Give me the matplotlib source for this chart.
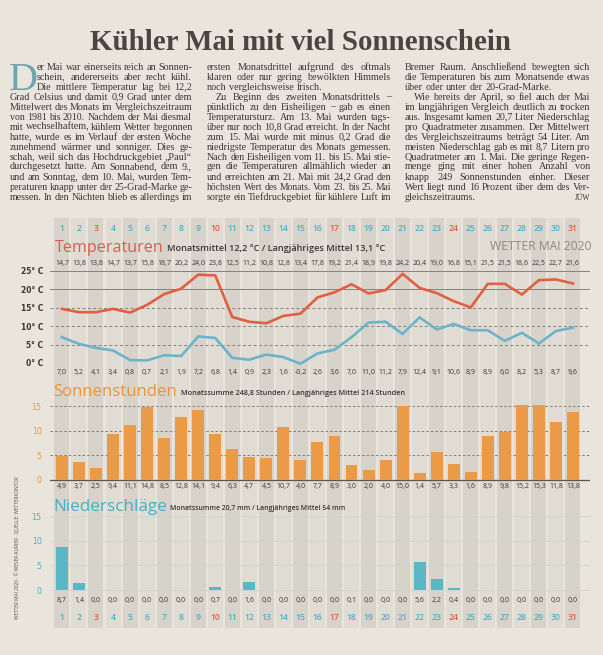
import matplotlib
matplotlib.use("Agg")
import matplotlib.pyplot as plt

# --- data (Mai 2020) ---
days = list(range(1, 32))
sundays = [3, 10, 17, 24, 31]
t_max = [14.7, 13.8, 13.8, 14.7, 13.7, 15.8, 18.7, 20.2, 24.0, 23.8, 12.5, 11.2, 10.8, 12.8, 13.4, 17.8,
         19.2, 21.4, 18.9, 19.8, 24.2, 20.4, 19.0, 16.8, 15.1, 21.5, 21.5, 18.6, 22.5, 22.7, 21.6]
t_min = [7.0, 5.2, 4.1, 3.4, 0.8, 0.7, 2.1, 1.9, 7.2, 6.8, 1.4, 0.9, 2.3, 1.6, -0.2, 2.6,
         3.6, 7.0, 11.0, 11.2, 7.9, 12.4, 9.1, 10.6, 8.9, 8.9, 6.0, 8.2, 5.3, 8.7, 9.6]
sun_hours = [4.9, 3.7, 2.5, 9.4, 11.1, 14.8, 8.5, 12.8, 14.1, 9.4, 6.3, 4.7, 4.5, 10.7, 4.0, 7.7,
             8.9, 3.0, 2.0, 4.0, 15.0, 1.4, 5.7, 3.3, 1.6, 8.9, 9.8, 15.2, 15.3, 11.8, 13.8]
rain_mm = [8.7, 1.4, 0.0, 0.0, 0.0, 0.0, 0.0, 0.0, 0.0, 0.7, 0.0, 1.6, 0.0, 0.0, 0.0, 0.0,
           0.0, 0.1, 0.0, 0.0, 0.0, 5.6, 2.2, 0.4, 0.0, 0.0, 0.0, 0.0, 0.0, 0.0, 0.0]
temp_ticks = [0, 5, 10, 15, 20, 25]
temp_labels = ["0° C", "5° C", "10° C", "15° C", "20° C", "25° C"]
bar_ticks = [0, 5, 10, 15]

headline = "Kühler Mai mit viel Sonnenschein"
col1 = ["er Mai war einerseits reich an Sonnen-",
        "schein, andererseits aber recht kühl.",
        "Die mittlere Temperatur lag bei 12,2",
        "Grad Celsius und damit 0,9 Grad unter dem",
        "Mittelwert des Monats im Vergleichszeitraum",
        "von 1981 bis 2010. Nachdem der Mai diesmal",
        "mit wechselhaftem, kühlem Wetter begonnen",
        "hatte, wurde es im Verlauf der ersten Woche",
        "zunehmend wärmer und sonniger. Dies ge-",
        "schah, weil sich das Hochdruckgebiet „Paul“",
        "durchgesetzt hatte. Am Sonnabend, dem 9.,",
        "und am Sonntag, dem 10. Mai, wurden Tem-",
        "peraturen knapp unter der 25-Grad-Marke ge-",
        "messen. In den Nächten blieb es allerdings im"]
col2 = ["ersten Monatsdrittel aufgrund des oftmals",
        "klaren oder nur gering bewölkten Himmels",
        "noch vergleichsweise frisch.",
        "Zu Beginn des zweiten Monatsdrittels –",
        "pünktlich zu den Eisheiligen – gab es einen",
        "Temperatursturz. Am 13. Mai wurden tags-",
        "über nur noch 10,8 Grad erreicht. In der Nacht",
        "zum 15. Mai wurde mit minus 0,2 Grad die",
        "niedrigste Temperatur des Monats gemessen.",
        "Nach den Eisheiligen vom 11. bis 15. Mai stie-",
        "gen die Temperaturen allmählich wieder an",
        "und erreichten am 21. Mai mit 24,2 Grad den",
        "höchsten Wert des Monats. Vom 23. bis 25. Mai",
        "sorgte ein Tiefdruckgebiet für kühlere Luft im"]
col3 = ["Bremer Raum. Anschließend bewegten sich",
        "die Temperaturen bis zum Monatsende etwas",
        "über oder unter der 20-Grad-Marke.",
        "Wie bereits der April, so fiel auch der Mai",
        "im langjährigen Vergleich deutlich zu trocken",
        "aus. Insgesamt kamen 20,7 Liter Niederschlag",
        "pro Quadratmeter zusammen. Der Mittelwert",
        "des Vergleichszeitraums beträgt 54 Liter. Am",
        "meisten Niederschlag gab es mit 8,7 Litern pro",
        "Quadratmeter am 1. Mai. Die geringe Regen-",
        "menge ging mit einer hohen Anzahl von",
        "knapp 249 Sonnenstunden einher. Dieser",
        "Wert liegt rund 16 Prozent über dem des Ver-",
        "gleichszeitraums."]

PAPER = "#e9e5dc"
TEXT = "#3a3734"
RED = "#e2603f"
ORANGE = "#eb9a47"
TEAL = "#4fb0c6"


def de(v):
    return f"{v:.1f}".replace(".", ",")


W, H = 603, 655
fig = plt.figure(figsize=(W / 100, H / 100), dpi=100, facecolor=PAPER)
renderer = fig.canvas.get_renderer()


def fx(px):
    return px / W


def fy(py):
    return 1 - py / H


def px_axes(left, top, right, bottom):
    ax = fig.add_axes([fx(left), fy(bottom), (right - left) / W, (bottom - top) / H])
    ax.set_xlim(0.3, 32)
    ax.set_facecolor("none")
    for s in ax.spines.values():
        s.set_visible(False)
    ax.set_xticks([])
    return ax


def width_of(s, **kw):
    t = fig.text(0, 0, s, **kw)
    w = t.get_window_extent(renderer).width
    t.remove()
    return w


def fitted(x, y, s, target, size, **kw):
    # scale font size so the text spans `target` pixels
    w = width_of(s, fontsize=size, **kw)
    return fig.text(fx(x), fy(y), s, fontsize=size * target / w, **kw)


# headline
fitted(300, 50, headline, 420, 24, family="Liberation Serif", weight="bold",
       color="#4a4541", ha="center", va="baseline")

# article text, justified; a line that is too long gets a slightly smaller size
serif = dict(family="Liberation Serif", color=TEXT)
base = 7.3
space = width_of("a a", fontsize=base, **serif) - 2 * width_of("a", fontsize=base, **serif)
columns = [(10, 192, col1, {0: 37, 1: 37, 2: 37}, set()),
           (207, 391, col2, {3: 216}, {2}),
           (405, 590, col3, {3: 414}, {2, 13})]
for x0, x1, lines, starts, ragged in columns:
    for i, ln in enumerate(lines):
        y = 69.5 + i * 10
        xs = starts.get(i, x0)
        words = ln.split()
        ws = [width_of(w, fontsize=base, **serif) for w in words]
        avail = x1 - xs - 0.9 * space * (len(words) - 1)
        size = base * min(1, avail / sum(ws))
        ws = [w * size / base for w in ws]
        gap = space if i in ragged else (x1 - xs - sum(ws)) / (len(words) - 1)
        for w, wd in zip(words, ws):
            fig.text(fx(xs), fy(y), w, fontsize=size, va="baseline", **serif)
            xs += wd + gap
fig.text(fx(590), fy(199.5), "JÜW", fontsize=5.5, ha="right", va="baseline", **serif)
fig.text(fx(9), fy(89.5), "D", fontsize=29, family="Liberation Serif", color="#6fa3b3", va="baseline")

# background day stripes and day numbers
bg = px_axes(50, 218, 590, 628)
bg.set_ylim(0, 1)
bg.set_yticks([])
for d in days:
    bg.axvspan(d - 0.44, d + 0.44, color="#d7d3ca" if d % 2 else "#e0dcd3", lw=0)
    c = RED if d in sundays else TEAL
    for yy in (0.9756, 0.0244):
        bg.text(d, yy, str(d), ha="center", va="center", fontsize=6.2, color=c,
                family="Open Sans", weight="semibold")

sans = dict(family="Open Sans")

# temperature panel
ax_t = px_axes(50, 258, 590, 378)
ax_t.set_ylim(-4.08, 28.53)
for v in temp_ticks[1:]:
    ax_t.axhline(v, color="#85817b", lw=0.7, ls="-" if v >= 20 else (0, (3, 2.5)))
ax_t.plot(days, t_max, color=RED, lw=1.9, solid_joinstyle="miter")
ax_t.plot(days, t_min, color="#6cb4cb", lw=1.9, solid_joinstyle="miter")
for d, hi, lo in zip(days, t_max, t_min):
    ax_t.text(d, 27.17, de(hi), ha="center", va="center", fontsize=5, color=TEXT, **sans)
    ax_t.text(d, -2.45, de(lo), ha="center", va="center", fontsize=5, color=TEXT, **sans)
ax_t.set_yticks(temp_ticks, temp_labels)
ax_t.tick_params(axis="y", length=0, pad=5, labelsize=5.5, labelcolor=TEXT)
for lab in ax_t.get_yticklabels():
    lab.set_fontweight("bold")

# sunshine panel
ax_s = px_axes(50, 400, 590, 493)
ax_s.set_ylim(-2.64, 16.23)
for v in bar_ticks[1:]:
    ax_s.axhline(v, color="#75716c", lw=0.6, ls=(0, (3, 2.5)), zorder=0)
ax_s.axhline(0, color="#5a5753", lw=0.9)
ax_s.bar(days, sun_hours, width=0.7, color=ORANGE, zorder=2)
for d, v in zip(days, sun_hours):
    ax_s.text(d, -1.42, de(v), ha="center", va="center", fontsize=5, color=TEXT, **sans)
ax_s.set_yticks(bar_ticks, [str(v) for v in bar_ticks])
ax_s.tick_params(axis="y", length=0, pad=6, labelsize=5.8, labelcolor=ORANGE)

# precipitation panel
ax_r = px_axes(50, 510, 590, 625)
ax_r.set_ylim(-7.1, 16.23)
for v in bar_ticks:
    ax_r.axhline(v, color="#c9d5d6", lw=0.6, zorder=0)
ax_r.bar(days, rain_mm, width=0.7, color="#5bb6c6", zorder=2)
for d, v in zip(days, rain_mm):
    ax_r.text(d, -2.23, de(v), ha="center", va="center", fontsize=5, color=TEXT, **sans)
ax_r.set_yticks(bar_ticks, [str(v) for v in bar_ticks])
ax_r.tick_params(axis="y", length=0, pad=6, labelsize=5.8, labelcolor=TEAL)

# section titles
fitted(55, 252, "Temperaturen", 108, 13, color="#d9604a", va="baseline", **sans)
fitted(167, 251, "Monatsmittel 12,2 °C / Langjähriges Mittel 13,1 °C", 217, 6,
       color=TEXT, weight="semibold", va="baseline", **sans)
fitted(592, 250, "WETTER MAI 2020", 102, 8, color="#8e8984", ha="right", va="baseline", **sans)
fitted(53, 396, "Sonnenstunden", 123, 13, color="#e8953f", va="baseline", **sans)
fitted(181, 395, "Monatssumme 248,8 Stunden / Langjähriges Mittel 214 Stunden", 224, 6,
       color=TEXT, weight="semibold", va="baseline", **sans)
fitted(53, 511, "Niederschläge", 113, 13, color="#45b0c8", va="baseline", **sans)
fitted(170, 510, "Monatssumme 20,7 mm / Langjähriges Mittel 54 mm", 173, 6,
       color=TEXT, weight="semibold", va="baseline", **sans)

# credit line
fig.text(fx(17), fy(548), "WETTER MAI 2020 · © WESER-KURIER · QUELLE: WETTERKONTOR",
         rotation=90, fontsize=3.4, ha="center", va="center", color="#55524e", **sans)

fig.savefig("out.png", dpi=100, facecolor=PAPER)
